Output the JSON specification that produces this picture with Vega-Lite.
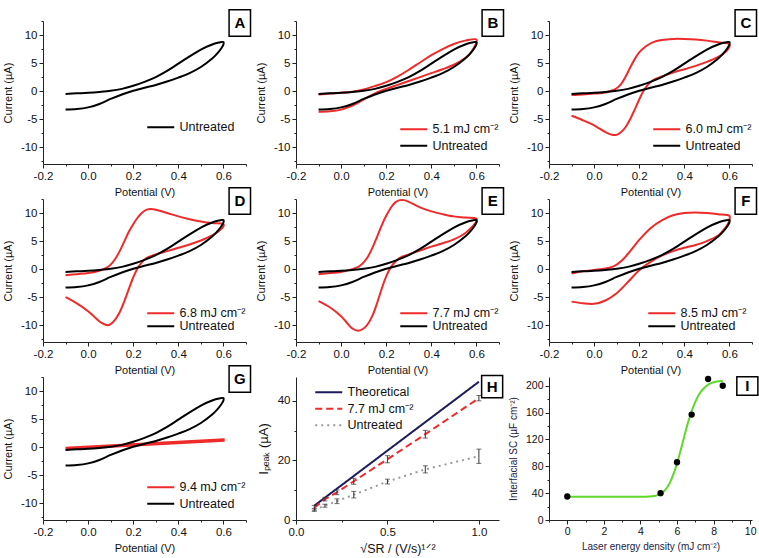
{
"$schema":"https://vega.github.io/schema/vega-lite/v6.json",
"background":"white",
"padding":{"left":2,"top":9,"right":2,"bottom":2},
"datasets":{
"cv":[
{"p":"U","k":1,"V":-0.1,"I":-0.5},{"p":"U","k":2,"V":-0.05,"I":-0.4},{"p":"U","k":3,"V":0,"I":-0.3},{"p":"U","k":4,"V":0.05,"I":-0.15},{"p":"U","k":5,"V":0.1,"I":0.05},{"p":"U","k":6,"V":0.15,"I":0.4},{"p":"U","k":7,"V":0.2,"I":0.95},{"p":"U","k":8,"V":0.25,"I":1.65},{"p":"U","k":9,"V":0.3,"I":2.5},{"p":"U","k":10,"V":0.35,"I":3.6},{"p":"U","k":11,"V":0.4,"I":4.9},{"p":"U","k":12,"V":0.45,"I":6.2},{"p":"U","k":13,"V":0.5,"I":7.4},{"p":"U","k":14,"V":0.55,"I":8.3},{"p":"U","k":15,"V":0.58,"I":8.65},{"p":"U","k":16,"V":0.6,"I":8.75},{"p":"U","k":17,"V":0.6,"I":8.3},{"p":"U","k":18,"V":0.59,"I":7.6},{"p":"U","k":19,"V":0.57,"I":6.6},{"p":"U","k":20,"V":0.55,"I":5.8},{"p":"U","k":21,"V":0.5,"I":4.3},{"p":"U","k":22,"V":0.45,"I":3.2},{"p":"U","k":23,"V":0.4,"I":2.4},{"p":"U","k":24,"V":0.35,"I":1.7},{"p":"U","k":25,"V":0.3,"I":1.1},{"p":"U","k":26,"V":0.25,"I":0.6},{"p":"U","k":27,"V":0.2,"I":0.05},{"p":"U","k":28,"V":0.15,"I":-0.6},{"p":"U","k":29,"V":0.1,"I":-1.4},{"p":"U","k":30,"V":0.05,"I":-2.3},{"p":"U","k":31,"V":0,"I":-2.9},{"p":"U","k":32,"V":-0.05,"I":-3.2},{"p":"U","k":33,"V":-0.1,"I":-3.3},
{"p":"B","k":1,"V":-0.1,"I":-0.6},{"p":"B","k":2,"V":-0.05,"I":-0.45},{"p":"B","k":3,"V":0,"I":-0.3},{"p":"B","k":4,"V":0.05,"I":-0.1},{"p":"B","k":5,"V":0.1,"I":0.3},{"p":"B","k":6,"V":0.15,"I":0.9},{"p":"B","k":7,"V":0.2,"I":1.6},{"p":"B","k":8,"V":0.25,"I":2.6},{"p":"B","k":9,"V":0.3,"I":3.8},{"p":"B","k":10,"V":0.35,"I":5.1},{"p":"B","k":11,"V":0.4,"I":6.4},{"p":"B","k":12,"V":0.45,"I":7.5},{"p":"B","k":13,"V":0.5,"I":8.4},{"p":"B","k":14,"V":0.55,"I":9.0},{"p":"B","k":15,"V":0.6,"I":9.2},{"p":"B","k":16,"V":0.6,"I":8.7},{"p":"B","k":17,"V":0.59,"I":7.8},{"p":"B","k":18,"V":0.57,"I":6.6},{"p":"B","k":19,"V":0.55,"I":5.9},{"p":"B","k":20,"V":0.5,"I":4.7},{"p":"B","k":21,"V":0.45,"I":3.9},{"p":"B","k":22,"V":0.4,"I":3.2},{"p":"B","k":23,"V":0.35,"I":2.5},{"p":"B","k":24,"V":0.3,"I":1.8},{"p":"B","k":25,"V":0.25,"I":1.1},{"p":"B","k":26,"V":0.2,"I":0.4},{"p":"B","k":27,"V":0.15,"I":-0.4},{"p":"B","k":28,"V":0.1,"I":-1.5},{"p":"B","k":29,"V":0.05,"I":-2.6},{"p":"B","k":30,"V":0,"I":-3.3},{"p":"B","k":31,"V":-0.05,"I":-3.6},{"p":"B","k":32,"V":-0.1,"I":-3.7},
{"p":"C","k":1,"V":-0.1,"I":-0.7},{"p":"C","k":2,"V":-0.05,"I":-0.6},{"p":"C","k":3,"V":0,"I":-0.45},{"p":"C","k":4,"V":0.05,"I":-0.25},{"p":"C","k":5,"V":0.08,"I":0.1},{"p":"C","k":6,"V":0.1,"I":0.5},{"p":"C","k":7,"V":0.12,"I":1.3},{"p":"C","k":8,"V":0.14,"I":2.6},{"p":"C","k":9,"V":0.16,"I":4.2},{"p":"C","k":10,"V":0.18,"I":5.7},{"p":"C","k":11,"V":0.2,"I":6.9},{"p":"C","k":12,"V":0.23,"I":8.0},{"p":"C","k":13,"V":0.26,"I":8.7},{"p":"C","k":14,"V":0.3,"I":9.1},{"p":"C","k":15,"V":0.35,"I":9.3},{"p":"C","k":16,"V":0.4,"I":9.3},{"p":"C","k":17,"V":0.45,"I":9.2},{"p":"C","k":18,"V":0.5,"I":9.0},{"p":"C","k":19,"V":0.55,"I":8.7},{"p":"C","k":20,"V":0.6,"I":8.4},{"p":"C","k":21,"V":0.6,"I":7.9},{"p":"C","k":22,"V":0.58,"I":6.9},{"p":"C","k":23,"V":0.55,"I":6.1},{"p":"C","k":24,"V":0.5,"I":5.2},{"p":"C","k":25,"V":0.45,"I":4.5},{"p":"C","k":26,"V":0.4,"I":3.9},{"p":"C","k":27,"V":0.35,"I":3.3},{"p":"C","k":28,"V":0.3,"I":2.6},{"p":"C","k":29,"V":0.26,"I":1.9},{"p":"C","k":30,"V":0.24,"I":1.2},{"p":"C","k":31,"V":0.22,"I":0.1},{"p":"C","k":32,"V":0.2,"I":-1.5},{"p":"C","k":33,"V":0.18,"I":-3.3},{"p":"C","k":34,"V":0.16,"I":-5.0},{"p":"C","k":35,"V":0.14,"I":-6.4},{"p":"C","k":36,"V":0.12,"I":-7.3},{"p":"C","k":37,"V":0.1,"I":-7.8},{"p":"C","k":38,"V":0.08,"I":-7.8},{"p":"C","k":39,"V":0.05,"I":-7.3},{"p":"C","k":40,"V":0.02,"I":-6.6},{"p":"C","k":41,"V":0,"I":-6.1},{"p":"C","k":42,"V":-0.05,"I":-5.2},{"p":"C","k":43,"V":-0.1,"I":-4.4},
{"p":"D","k":1,"V":-0.1,"I":-1.1},{"p":"D","k":2,"V":-0.05,"I":-0.9},{"p":"D","k":3,"V":0,"I":-0.7},{"p":"D","k":4,"V":0.05,"I":-0.3},{"p":"D","k":5,"V":0.08,"I":0.2},{"p":"D","k":6,"V":0.1,"I":0.8},{"p":"D","k":7,"V":0.12,"I":1.8},{"p":"D","k":8,"V":0.14,"I":3.2},{"p":"D","k":9,"V":0.16,"I":4.9},{"p":"D","k":10,"V":0.18,"I":6.6},{"p":"D","k":11,"V":0.2,"I":8.0},{"p":"D","k":12,"V":0.22,"I":9.2},{"p":"D","k":13,"V":0.24,"I":10.1},{"p":"D","k":14,"V":0.26,"I":10.6},{"p":"D","k":15,"V":0.28,"I":10.7},{"p":"D","k":16,"V":0.3,"I":10.6},{"p":"D","k":17,"V":0.35,"I":10.0},{"p":"D","k":18,"V":0.4,"I":9.4},{"p":"D","k":19,"V":0.45,"I":8.9},{"p":"D","k":20,"V":0.5,"I":8.5},{"p":"D","k":21,"V":0.55,"I":8.2},{"p":"D","k":22,"V":0.6,"I":8.0},{"p":"D","k":23,"V":0.6,"I":7.6},{"p":"D","k":24,"V":0.58,"I":6.8},{"p":"D","k":25,"V":0.55,"I":6.0},{"p":"D","k":26,"V":0.5,"I":5.1},{"p":"D","k":27,"V":0.45,"I":4.4},{"p":"D","k":28,"V":0.4,"I":3.8},{"p":"D","k":29,"V":0.35,"I":3.2},{"p":"D","k":30,"V":0.3,"I":2.6},{"p":"D","k":31,"V":0.26,"I":2.0},{"p":"D","k":32,"V":0.24,"I":1.3},{"p":"D","k":33,"V":0.22,"I":0.2},{"p":"D","k":34,"V":0.2,"I":-1.5},{"p":"D","k":35,"V":0.18,"I":-3.6},{"p":"D","k":36,"V":0.16,"I":-5.8},{"p":"D","k":37,"V":0.14,"I":-7.7},{"p":"D","k":38,"V":0.12,"I":-9.0},{"p":"D","k":39,"V":0.1,"I":-9.8},{"p":"D","k":40,"V":0.085,"I":-10.0},{"p":"D","k":41,"V":0.06,"I":-9.6},{"p":"D","k":42,"V":0.03,"I":-8.6},{"p":"D","k":43,"V":0,"I":-7.5},{"p":"D","k":44,"V":-0.05,"I":-6.1},{"p":"D","k":45,"V":-0.1,"I":-5.0},
{"p":"E","k":1,"V":-0.1,"I":-0.9},{"p":"E","k":2,"V":-0.05,"I":-0.7},{"p":"E","k":3,"V":0,"I":-0.5},{"p":"E","k":4,"V":0.05,"I":0},{"p":"E","k":5,"V":0.08,"I":0.5},{"p":"E","k":6,"V":0.1,"I":1.2},{"p":"E","k":7,"V":0.12,"I":2.3},{"p":"E","k":8,"V":0.14,"I":3.9},{"p":"E","k":9,"V":0.16,"I":5.8},{"p":"E","k":10,"V":0.18,"I":7.8},{"p":"E","k":11,"V":0.2,"I":9.5},{"p":"E","k":12,"V":0.22,"I":10.9},{"p":"E","k":13,"V":0.24,"I":11.9},{"p":"E","k":14,"V":0.26,"I":12.3},{"p":"E","k":15,"V":0.28,"I":12.3},{"p":"E","k":16,"V":0.3,"I":12.0},{"p":"E","k":17,"V":0.35,"I":11.0},{"p":"E","k":18,"V":0.4,"I":10.3},{"p":"E","k":19,"V":0.45,"I":9.8},{"p":"E","k":20,"V":0.5,"I":9.4},{"p":"E","k":21,"V":0.55,"I":9.2},{"p":"E","k":22,"V":0.6,"I":9.0},{"p":"E","k":23,"V":0.6,"I":8.5},{"p":"E","k":24,"V":0.58,"I":7.5},{"p":"E","k":25,"V":0.55,"I":6.4},{"p":"E","k":26,"V":0.5,"I":5.3},{"p":"E","k":27,"V":0.45,"I":4.6},{"p":"E","k":28,"V":0.4,"I":4.0},{"p":"E","k":29,"V":0.35,"I":3.3},{"p":"E","k":30,"V":0.3,"I":2.6},{"p":"E","k":31,"V":0.26,"I":2.0},{"p":"E","k":32,"V":0.24,"I":1.3},{"p":"E","k":33,"V":0.22,"I":0.3},{"p":"E","k":34,"V":0.2,"I":-1.3},{"p":"E","k":35,"V":0.18,"I":-3.5},{"p":"E","k":36,"V":0.16,"I":-6.0},{"p":"E","k":37,"V":0.14,"I":-8.2},{"p":"E","k":38,"V":0.12,"I":-9.7},{"p":"E","k":39,"V":0.1,"I":-10.6},{"p":"E","k":40,"V":0.075,"I":-11.0},{"p":"E","k":41,"V":0.05,"I":-10.6},{"p":"E","k":42,"V":0.02,"I":-9.3},{"p":"E","k":43,"V":0,"I":-8.4},{"p":"E","k":44,"V":-0.05,"I":-6.8},{"p":"E","k":45,"V":-0.1,"I":-5.7},
{"p":"F","k":1,"V":-0.1,"I":-0.8},{"p":"F","k":2,"V":-0.05,"I":-0.4},{"p":"F","k":3,"V":0,"I":-0.15},{"p":"F","k":4,"V":0.05,"I":0.1},{"p":"F","k":5,"V":0.08,"I":0.4},{"p":"F","k":6,"V":0.1,"I":0.8},{"p":"F","k":7,"V":0.13,"I":1.8},{"p":"F","k":8,"V":0.16,"I":3.2},{"p":"F","k":9,"V":0.2,"I":5.2},{"p":"F","k":10,"V":0.25,"I":7.3},{"p":"F","k":11,"V":0.3,"I":8.7},{"p":"F","k":12,"V":0.35,"I":9.6},{"p":"F","k":13,"V":0.4,"I":10.0},{"p":"F","k":14,"V":0.45,"I":10.1},{"p":"F","k":15,"V":0.5,"I":10.0},{"p":"F","k":16,"V":0.55,"I":9.8},{"p":"F","k":17,"V":0.6,"I":9.5},{"p":"F","k":18,"V":0.6,"I":8.8},{"p":"F","k":19,"V":0.59,"I":7.8},{"p":"F","k":20,"V":0.57,"I":6.8},{"p":"F","k":21,"V":0.55,"I":6.0},{"p":"F","k":22,"V":0.5,"I":5.0},{"p":"F","k":23,"V":0.45,"I":4.3},{"p":"F","k":24,"V":0.4,"I":3.8},{"p":"F","k":25,"V":0.35,"I":3.2},{"p":"F","k":26,"V":0.3,"I":2.4},{"p":"F","k":27,"V":0.25,"I":1.3},{"p":"F","k":28,"V":0.2,"I":-0.2},{"p":"F","k":29,"V":0.15,"I":-2.3},{"p":"F","k":30,"V":0.1,"I":-4.3},{"p":"F","k":31,"V":0.05,"I":-5.6},{"p":"F","k":32,"V":0,"I":-6.2},{"p":"F","k":33,"V":-0.05,"I":-6.1},{"p":"F","k":34,"V":-0.1,"I":-5.8},
{"p":"G","k":1,"V":-0.1,"I":-0.15},{"p":"G","k":2,"V":0.25,"I":0.6},{"p":"G","k":3,"V":0.6,"I":1.35},{"p":"G","k":4,"V":0.6,"I":1.15},{"p":"G","k":5,"V":0.25,"I":0.4},{"p":"G","k":6,"V":-0.1,"I":-0.35}
],
"h":[
{"s":"Theoretical","x":0.1,"y":4.8},{"s":"Theoretical","x":1.0,"y":46.4},
{"s":"7.7 mJ cm⁻²","x":0.1,"y":4.1,"lo":3.3,"hi":4.9},{"s":"7.7 mJ cm⁻²","x":0.158,"y":7.0,"lo":6.4,"hi":7.6},{"s":"7.7 mJ cm⁻²","x":0.224,"y":9.3,"lo":8.5,"hi":10.1},{"s":"7.7 mJ cm⁻²","x":0.316,"y":13.0,"lo":12.0,"hi":14.0},{"s":"7.7 mJ cm⁻²","x":0.5,"y":20.4,"lo":19.2,"hi":21.6},{"s":"7.7 mJ cm⁻²","x":0.707,"y":28.8,"lo":27.5,"hi":30.1},{"s":"7.7 mJ cm⁻²","x":1.0,"y":40.9,"lo":40.0,"hi":41.8},
{"s":"Untreated","x":0.1,"y":3.4,"lo":2.9,"hi":3.9},{"s":"Untreated","x":0.158,"y":4.8,"lo":4.3,"hi":5.3},{"s":"Untreated","x":0.224,"y":6.3,"lo":5.5,"hi":7.1},{"s":"Untreated","x":0.316,"y":8.5,"lo":7.4,"hi":9.6},{"s":"Untreated","x":0.5,"y":12.9,"lo":12.1,"hi":13.7},{"s":"Untreated","x":0.707,"y":17.0,"lo":15.8,"hi":18.2},{"s":"Untreated","x":1.0,"y":21.4,"lo":19.0,"hi":23.8}
],
"ifit":[
{"x":0,"y":34.5},{"x":1,"y":34.5},{"x":2,"y":34.5},{"x":3,"y":34.5},{"x":4,"y":34.6},{"x":4.5,"y":35},{"x":5,"y":37.5},{"x":5.3,"y":43},{"x":5.6,"y":55},{"x":5.8,"y":68},{"x":6,"y":84},{"x":6.2,"y":104},{"x":6.4,"y":125},{"x":6.6,"y":145},{"x":6.8,"y":162},{"x":7,"y":176},{"x":7.2,"y":187},{"x":7.5,"y":197},{"x":7.8,"y":203},{"x":8.1,"y":206},{"x":8.5,"y":207}
],
"ipts":[
{"x":0,"y":35},{"x":5.1,"y":40},{"x":6.0,"y":86},{"x":6.8,"y":157},{"x":7.7,"y":210},{"x":8.5,"y":200}
]
},
"columns":3,
"spacing":{"row":35,"column":50},
"bounds":"flush",
"resolve":{"scale":{"x":"independent","y":"independent","color":"independent","strokeDash":"independent"},"axis":{"x":"independent","y":"independent"},"legend":{"color":"independent","strokeDash":"independent"}},
"concat":[
{"width":203,"height":143,"layer":[
{"data":{"name":"cv"},"transform":[{"filter":"datum.p=='U'"}],"mark":{"type":"line","strokeWidth":2,"interpolate":"catmull-rom"},
"encoding":{"x":{"field":"V","type":"quantitative","scale":{"domain":[-0.2,0.7],"nice":false,"zero":false},"axis":{"title":"Potential (V)","tickCount":50,"values":[-0.2,-0.1,0,0.1,0.2,0.3,0.4,0.5,0.6,0.7],"labelExpr":"abs(round(datum.value*10))%2==0 ? replace(format(datum.value,'.1f'),'\u2212','-') : ''","tickSize":{"condition":{"test":"abs(round(datum.value*10))%2==0","value":4},"value":2}}},
"y":{"field":"I","type":"quantitative","scale":{"domain":[-13,12.5],"nice":false,"zero":false},"axis":{"title":"Current (µA)","tickCount":50,"values":[-12.5,-10,-7.5,-5,-2.5,0,2.5,5,7.5,10,12.5],"labelExpr":"datum.value%5==0 ? replace(format(datum.value,'d'),'\u2212','-') : ''","tickSize":{"condition":{"test":"datum.value%5==0","value":4},"value":2}}},
"order":{"field":"k"},
"color":{"datum":"Untreated","scale":{"domain":["Untreated"],"range":["#000000"]},"legend":{"title":null,"orient":"none","legendX":120,"legendY":100}}}},
{"data":{"values":[{}]},"mark":{"type":"rect","fill":"white","stroke":"black","strokeWidth":1.5},"encoding":{"x":{"datum":0.625,"scale":{"domain":[-0.2,0.7],"nice":false,"zero":false}},"x2":{"datum":0.72},"y":{"datum":14.5,"scale":{"domain":[-13,12.5],"nice":false,"zero":false}},"y2":{"datum":9.8}}},
{"data":{"values":[{}]},"mark":{"type":"text","font":"Liberation Sans","fontWeight":"bold","fontSize":15},"encoding":{"x":{"datum":0.6725,"scale":{"domain":[-0.2,0.7],"nice":false,"zero":false}},"y":{"datum":12.15,"scale":{"domain":[-13,12.5],"nice":false,"zero":false}},"text":{"value":"A"}}}
]},
{"width":203,"height":143,"layer":[
{"data":{"name":"cv"},"transform":[{"filter":"datum.p=='B'"}],"mark":{"type":"line","strokeWidth":2,"interpolate":"catmull-rom"},
"encoding":{"x":{"field":"V","type":"quantitative","scale":{"domain":[-0.2,0.7],"nice":false,"zero":false},"axis":{"title":"Potential (V)","tickCount":50,"values":[-0.2,-0.1,0,0.1,0.2,0.3,0.4,0.5,0.6,0.7],"labelExpr":"abs(round(datum.value*10))%2==0 ? replace(format(datum.value,'.1f'),'\u2212','-') : ''","tickSize":{"condition":{"test":"abs(round(datum.value*10))%2==0","value":4},"value":2}}},
"y":{"field":"I","type":"quantitative","scale":{"domain":[-13,12.5],"nice":false,"zero":false},"axis":{"title":"Current (µA)","tickCount":50,"values":[-12.5,-10,-7.5,-5,-2.5,0,2.5,5,7.5,10,12.5],"labelExpr":"datum.value%5==0 ? replace(format(datum.value,'d'),'\u2212','-') : ''","tickSize":{"condition":{"test":"datum.value%5==0","value":4},"value":2}}},
"order":{"field":"k"},
"color":{"datum":"5.1 mJ cm⁻²","scale":{"domain":["5.1 mJ cm⁻²","Untreated"],"range":["#ee2a2a","#000000"]},"legend":{"title":null,"orient":"none","legendX":120,"legendY":102,"rowPadding":3.5}}}},
{"data":{"name":"cv"},"transform":[{"filter":"datum.p=='U'"}],"mark":{"type":"line","strokeWidth":2,"interpolate":"catmull-rom"},"encoding":{"x":{"field":"V","type":"quantitative","scale":{"domain":[-0.2,0.7],"nice":false,"zero":false}},"y":{"field":"I","type":"quantitative","scale":{"domain":[-13,12.5],"nice":false,"zero":false}},"order":{"field":"k"},"color":{"datum":"Untreated"}}},
{"data":{"values":[{}]},"mark":{"type":"rect","fill":"white","stroke":"black","strokeWidth":1.5},"encoding":{"x":{"datum":0.625,"scale":{"domain":[-0.2,0.7],"nice":false,"zero":false}},"x2":{"datum":0.72},"y":{"datum":14.5,"scale":{"domain":[-13,12.5],"nice":false,"zero":false}},"y2":{"datum":9.8}}},
{"data":{"values":[{}]},"mark":{"type":"text","font":"Liberation Sans","fontWeight":"bold","fontSize":15},"encoding":{"x":{"datum":0.6725,"scale":{"domain":[-0.2,0.7],"nice":false,"zero":false}},"y":{"datum":12.15,"scale":{"domain":[-13,12.5],"nice":false,"zero":false}},"text":{"value":"B"}}}
]},
{"width":203,"height":143,"layer":[
{"data":{"name":"cv"},"transform":[{"filter":"datum.p=='C'"}],"mark":{"type":"line","strokeWidth":2,"interpolate":"catmull-rom"},
"encoding":{"x":{"field":"V","type":"quantitative","scale":{"domain":[-0.2,0.7],"nice":false,"zero":false},"axis":{"title":"Potential (V)","tickCount":50,"values":[-0.2,-0.1,0,0.1,0.2,0.3,0.4,0.5,0.6,0.7],"labelExpr":"abs(round(datum.value*10))%2==0 ? replace(format(datum.value,'.1f'),'\u2212','-') : ''","tickSize":{"condition":{"test":"abs(round(datum.value*10))%2==0","value":4},"value":2}}},
"y":{"field":"I","type":"quantitative","scale":{"domain":[-13,12.5],"nice":false,"zero":false},"axis":{"title":"Current (µA)","tickCount":50,"values":[-12.5,-10,-7.5,-5,-2.5,0,2.5,5,7.5,10,12.5],"labelExpr":"datum.value%5==0 ? replace(format(datum.value,'d'),'\u2212','-') : ''","tickSize":{"condition":{"test":"datum.value%5==0","value":4},"value":2}}},
"order":{"field":"k"},
"color":{"datum":"6.0 mJ cm⁻²","scale":{"domain":["6.0 mJ cm⁻²","Untreated"],"range":["#ee2a2a","#000000"]},"legend":{"title":null,"orient":"none","legendX":120,"legendY":102,"rowPadding":3.5}}}},
{"data":{"name":"cv"},"transform":[{"filter":"datum.p=='U'"}],"mark":{"type":"line","strokeWidth":2,"interpolate":"catmull-rom"},"encoding":{"x":{"field":"V","type":"quantitative","scale":{"domain":[-0.2,0.7],"nice":false,"zero":false}},"y":{"field":"I","type":"quantitative","scale":{"domain":[-13,12.5],"nice":false,"zero":false}},"order":{"field":"k"},"color":{"datum":"Untreated"}}},
{"data":{"values":[{}]},"mark":{"type":"rect","fill":"white","stroke":"black","strokeWidth":1.5},"encoding":{"x":{"datum":0.625,"scale":{"domain":[-0.2,0.7],"nice":false,"zero":false}},"x2":{"datum":0.72},"y":{"datum":14.5,"scale":{"domain":[-13,12.5],"nice":false,"zero":false}},"y2":{"datum":9.8}}},
{"data":{"values":[{}]},"mark":{"type":"text","font":"Liberation Sans","fontWeight":"bold","fontSize":15},"encoding":{"x":{"datum":0.6725,"scale":{"domain":[-0.2,0.7],"nice":false,"zero":false}},"y":{"datum":12.15,"scale":{"domain":[-13,12.5],"nice":false,"zero":false}},"text":{"value":"C"}}}
]},
{"width":203,"height":143,"layer":[
{"data":{"name":"cv"},"transform":[{"filter":"datum.p=='D'"}],"mark":{"type":"line","strokeWidth":2,"interpolate":"catmull-rom"},
"encoding":{"x":{"field":"V","type":"quantitative","scale":{"domain":[-0.2,0.7],"nice":false,"zero":false},"axis":{"title":"Potential (V)","tickCount":50,"values":[-0.2,-0.1,0,0.1,0.2,0.3,0.4,0.5,0.6,0.7],"labelExpr":"abs(round(datum.value*10))%2==0 ? replace(format(datum.value,'.1f'),'\u2212','-') : ''","tickSize":{"condition":{"test":"abs(round(datum.value*10))%2==0","value":4},"value":2}}},
"y":{"field":"I","type":"quantitative","scale":{"domain":[-13,12.5],"nice":false,"zero":false},"axis":{"title":"Current (µA)","tickCount":50,"values":[-12.5,-10,-7.5,-5,-2.5,0,2.5,5,7.5,10,12.5],"labelExpr":"datum.value%5==0 ? replace(format(datum.value,'d'),'\u2212','-') : ''","tickSize":{"condition":{"test":"datum.value%5==0","value":4},"value":2}}},
"order":{"field":"k"},
"color":{"datum":"6.8 mJ cm⁻²","scale":{"domain":["6.8 mJ cm⁻²","Untreated"],"range":["#ee2a2a","#000000"]},"legend":{"title":null,"orient":"none","legendX":120,"legendY":108,"rowPadding":-1.5}}}},
{"data":{"name":"cv"},"transform":[{"filter":"datum.p=='U'"}],"mark":{"type":"line","strokeWidth":2,"interpolate":"catmull-rom"},"encoding":{"x":{"field":"V","type":"quantitative","scale":{"domain":[-0.2,0.7],"nice":false,"zero":false}},"y":{"field":"I","type":"quantitative","scale":{"domain":[-13,12.5],"nice":false,"zero":false}},"order":{"field":"k"},"color":{"datum":"Untreated"}}},
{"data":{"values":[{}]},"mark":{"type":"rect","fill":"white","stroke":"black","strokeWidth":1.5},"encoding":{"x":{"datum":0.625,"scale":{"domain":[-0.2,0.7],"nice":false,"zero":false}},"x2":{"datum":0.72},"y":{"datum":14.5,"scale":{"domain":[-13,12.5],"nice":false,"zero":false}},"y2":{"datum":9.8}}},
{"data":{"values":[{}]},"mark":{"type":"text","font":"Liberation Sans","fontWeight":"bold","fontSize":15},"encoding":{"x":{"datum":0.6725,"scale":{"domain":[-0.2,0.7],"nice":false,"zero":false}},"y":{"datum":12.15,"scale":{"domain":[-13,12.5],"nice":false,"zero":false}},"text":{"value":"D"}}}
]},
{"width":203,"height":143,"layer":[
{"data":{"name":"cv"},"transform":[{"filter":"datum.p=='E'"}],"mark":{"type":"line","strokeWidth":2,"interpolate":"catmull-rom"},
"encoding":{"x":{"field":"V","type":"quantitative","scale":{"domain":[-0.2,0.7],"nice":false,"zero":false},"axis":{"title":"Potential (V)","tickCount":50,"values":[-0.2,-0.1,0,0.1,0.2,0.3,0.4,0.5,0.6,0.7],"labelExpr":"abs(round(datum.value*10))%2==0 ? replace(format(datum.value,'.1f'),'\u2212','-') : ''","tickSize":{"condition":{"test":"abs(round(datum.value*10))%2==0","value":4},"value":2}}},
"y":{"field":"I","type":"quantitative","scale":{"domain":[-13,12.5],"nice":false,"zero":false},"axis":{"title":"Current (µA)","tickCount":50,"values":[-12.5,-10,-7.5,-5,-2.5,0,2.5,5,7.5,10,12.5],"labelExpr":"datum.value%5==0 ? replace(format(datum.value,'d'),'\u2212','-') : ''","tickSize":{"condition":{"test":"datum.value%5==0","value":4},"value":2}}},
"order":{"field":"k"},
"color":{"datum":"7.7 mJ cm⁻²","scale":{"domain":["7.7 mJ cm⁻²","Untreated"],"range":["#ee2a2a","#000000"]},"legend":{"title":null,"orient":"none","legendX":120,"legendY":108,"rowPadding":-1.5}}}},
{"data":{"name":"cv"},"transform":[{"filter":"datum.p=='U'"}],"mark":{"type":"line","strokeWidth":2,"interpolate":"catmull-rom"},"encoding":{"x":{"field":"V","type":"quantitative","scale":{"domain":[-0.2,0.7],"nice":false,"zero":false}},"y":{"field":"I","type":"quantitative","scale":{"domain":[-13,12.5],"nice":false,"zero":false}},"order":{"field":"k"},"color":{"datum":"Untreated"}}},
{"data":{"values":[{}]},"mark":{"type":"rect","fill":"white","stroke":"black","strokeWidth":1.5},"encoding":{"x":{"datum":0.625,"scale":{"domain":[-0.2,0.7],"nice":false,"zero":false}},"x2":{"datum":0.72},"y":{"datum":14.5,"scale":{"domain":[-13,12.5],"nice":false,"zero":false}},"y2":{"datum":9.8}}},
{"data":{"values":[{}]},"mark":{"type":"text","font":"Liberation Sans","fontWeight":"bold","fontSize":15},"encoding":{"x":{"datum":0.6725,"scale":{"domain":[-0.2,0.7],"nice":false,"zero":false}},"y":{"datum":12.15,"scale":{"domain":[-13,12.5],"nice":false,"zero":false}},"text":{"value":"E"}}}
]},
{"width":203,"height":143,"layer":[
{"data":{"name":"cv"},"transform":[{"filter":"datum.p=='F'"}],"mark":{"type":"line","strokeWidth":2,"interpolate":"catmull-rom"},
"encoding":{"x":{"field":"V","type":"quantitative","scale":{"domain":[-0.2,0.7],"nice":false,"zero":false},"axis":{"title":"Potential (V)","tickCount":50,"values":[-0.2,-0.1,0,0.1,0.2,0.3,0.4,0.5,0.6,0.7],"labelExpr":"abs(round(datum.value*10))%2==0 ? replace(format(datum.value,'.1f'),'\u2212','-') : ''","tickSize":{"condition":{"test":"abs(round(datum.value*10))%2==0","value":4},"value":2}}},
"y":{"field":"I","type":"quantitative","scale":{"domain":[-13,12.5],"nice":false,"zero":false},"axis":{"title":"Current (µA)","tickCount":50,"values":[-12.5,-10,-7.5,-5,-2.5,0,2.5,5,7.5,10,12.5],"labelExpr":"datum.value%5==0 ? replace(format(datum.value,'d'),'\u2212','-') : ''","tickSize":{"condition":{"test":"datum.value%5==0","value":4},"value":2}}},
"order":{"field":"k"},
"color":{"datum":"8.5 mJ cm⁻²","scale":{"domain":["8.5 mJ cm⁻²","Untreated"],"range":["#ee2a2a","#000000"]},"legend":{"title":null,"orient":"none","legendX":115,"legendY":108,"rowPadding":-1.5}}}},
{"data":{"name":"cv"},"transform":[{"filter":"datum.p=='U'"}],"mark":{"type":"line","strokeWidth":2,"interpolate":"catmull-rom"},"encoding":{"x":{"field":"V","type":"quantitative","scale":{"domain":[-0.2,0.7],"nice":false,"zero":false}},"y":{"field":"I","type":"quantitative","scale":{"domain":[-13,12.5],"nice":false,"zero":false}},"order":{"field":"k"},"color":{"datum":"Untreated"}}},
{"data":{"values":[{}]},"mark":{"type":"rect","fill":"white","stroke":"black","strokeWidth":1.5},"encoding":{"x":{"datum":0.625,"scale":{"domain":[-0.2,0.7],"nice":false,"zero":false}},"x2":{"datum":0.72},"y":{"datum":14.5,"scale":{"domain":[-13,12.5],"nice":false,"zero":false}},"y2":{"datum":9.8}}},
{"data":{"values":[{}]},"mark":{"type":"text","font":"Liberation Sans","fontWeight":"bold","fontSize":15},"encoding":{"x":{"datum":0.6725,"scale":{"domain":[-0.2,0.7],"nice":false,"zero":false}},"y":{"datum":12.15,"scale":{"domain":[-13,12.5],"nice":false,"zero":false}},"text":{"value":"F"}}}
]},
{"width":203,"height":143,"layer":[
{"data":{"name":"cv"},"transform":[{"filter":"datum.p=='G'"}],"mark":{"type":"line","strokeWidth":2.5,"interpolate":"linear"},
"encoding":{"x":{"field":"V","type":"quantitative","scale":{"domain":[-0.2,0.7],"nice":false,"zero":false},"axis":{"title":"Potential (V)","tickCount":50,"values":[-0.2,-0.1,0,0.1,0.2,0.3,0.4,0.5,0.6,0.7],"labelExpr":"abs(round(datum.value*10))%2==0 ? replace(format(datum.value,'.1f'),'\u2212','-') : ''","tickSize":{"condition":{"test":"abs(round(datum.value*10))%2==0","value":4},"value":2}}},
"y":{"field":"I","type":"quantitative","scale":{"domain":[-13,12.5],"nice":false,"zero":false},"axis":{"title":"Current (µA)","tickCount":50,"values":[-12.5,-10,-7.5,-5,-2.5,0,2.5,5,7.5,10,12.5],"labelExpr":"datum.value%5==0 ? replace(format(datum.value,'d'),'\u2212','-') : ''","tickSize":{"condition":{"test":"datum.value%5==0","value":4},"value":2}}},
"order":{"field":"k"},
"color":{"datum":"9.4 mJ cm⁻²","scale":{"domain":["9.4 mJ cm⁻²","Untreated"],"range":["#ee2a2a","#000000"]},"legend":{"title":null,"orient":"none","legendX":120,"legendY":104,"rowPadding":3.5}}}},
{"data":{"name":"cv"},"transform":[{"filter":"datum.p=='U'"}],"mark":{"type":"line","strokeWidth":2,"interpolate":"catmull-rom"},"encoding":{"x":{"field":"V","type":"quantitative","scale":{"domain":[-0.2,0.7],"nice":false,"zero":false}},"y":{"field":"I","type":"quantitative","scale":{"domain":[-13,12.5],"nice":false,"zero":false}},"order":{"field":"k"},"color":{"datum":"Untreated"}}},
{"data":{"values":[{}]},"mark":{"type":"rect","fill":"white","stroke":"black","strokeWidth":1.5},"encoding":{"x":{"datum":0.625,"scale":{"domain":[-0.2,0.7],"nice":false,"zero":false}},"x2":{"datum":0.72},"y":{"datum":14.5,"scale":{"domain":[-13,12.5],"nice":false,"zero":false}},"y2":{"datum":9.8}}},
{"data":{"values":[{}]},"mark":{"type":"text","font":"Liberation Sans","fontWeight":"bold","fontSize":15},"encoding":{"x":{"datum":0.6725,"scale":{"domain":[-0.2,0.7],"nice":false,"zero":false}},"y":{"datum":12.15,"scale":{"domain":[-13,12.5],"nice":false,"zero":false}},"text":{"value":"G"}}}
]},
{"width":203,"height":143,"layer":[
{"data":{"name":"h"},"mark":{"type":"line","strokeWidth":2},
"encoding":{"x":{"field":"x","type":"quantitative","scale":{"domain":[0,1.11],"nice":false,"zero":false},"axis":{"title":"√SR / (V/s)¹ᐟ²","titleFontSize":12.5,"tickCount":50,"values":[0,0.25,0.5,0.75,1],"labelExpr":"(datum.value*2)%1==0 ? format(datum.value,'.1f') : ''","tickSize":{"condition":{"test":"(datum.value*2)%1==0","value":4},"value":2}}},
"y":{"field":"y","type":"quantitative","scale":{"domain":[0,48],"nice":false,"zero":false},"axis":{"title":"Iₚₑₐₖ (µA)","titleFontSize":13,"tickCount":50,"values":[0,10,20,30,40],"labelExpr":"datum.value%20==0 ? format(datum.value,'d') : ''","tickSize":{"condition":{"test":"datum.value%20==0","value":4},"value":2}}},
"color":{"field":"s","type":"nominal","scale":{"domain":["Theoretical","7.7 mJ cm⁻²","Untreated"],"range":["#1c1c5c","#ee2a2a","#9a9a9a"]},"legend":{"title":null,"orient":"none","legendX":35,"legendY":9,"rowPadding":3.5}},
"strokeDash":{"field":"s","type":"nominal","scale":{"domain":["Theoretical","7.7 mJ cm⁻²","Untreated"],"range":[[1,0],[7,4],[2,4]]},"legend":{"title":null,"orient":"none","legendX":35,"legendY":9,"rowPadding":3.5}}}},
{"data":{"name":"h"},"transform":[{"filter":"isValid(datum.lo)"}],"mark":{"type":"errorbar","ticks":true,"color":"#333333"},"encoding":{"x":{"field":"x","type":"quantitative","scale":{"domain":[0,1.11],"nice":false,"zero":false}},"y":{"field":"lo","type":"quantitative","scale":{"domain":[0,48],"nice":false,"zero":false},"title":"Iₚₑₐₖ (µA)"},"y2":{"field":"hi"}}},
{"data":{"values":[{}]},"mark":{"type":"rect","fill":"white","stroke":"black","strokeWidth":1.5},"encoding":{"x":{"datum":1.015,"scale":{"domain":[0,1.11],"nice":false,"zero":false}},"x2":{"datum":1.13},"y":{"datum":48.5,"scale":{"domain":[0,48],"nice":false,"zero":false}},"y2":{"datum":41}}},
{"data":{"values":[{}]},"mark":{"type":"text","font":"Liberation Sans","fontWeight":"bold","fontSize":15},"encoding":{"x":{"datum":1.0725,"scale":{"domain":[0,1.11],"nice":false,"zero":false}},"y":{"datum":44.75,"scale":{"domain":[0,48],"nice":false,"zero":false}},"text":{"value":"H"}}}
]},
{"width":203,"height":143,"layer":[
{"data":{"name":"ifit"},"mark":{"type":"line","strokeWidth":2,"color":"#5ed82a","interpolate":"monotone"},
"encoding":{"x":{"field":"x","type":"quantitative","scale":{"domain":[-1,10.1],"nice":false,"zero":false},"axis":{"title":"Laser energy density (mJ cm⁻²)","titleFontSize":10,"titleColor":"#222244","labelFontSize":10.5,"tickCount":50,"values":[-1,0,1,2,3,4,5,6,7,8,9,10],"labelExpr":"datum.value>=0 && datum.value%2==0 ? format(datum.value,'d') : ''","tickSize":{"condition":{"test":"datum.value>=0 && datum.value%2==0","value":4},"value":2}}},
"y":{"field":"y","type":"quantitative","scale":{"domain":[0,213],"nice":false,"zero":false},"axis":{"title":"Interfacial SC (µF cm⁻²)","titleFontSize":10,"titleColor":"#222244","labelFontSize":10.5,"tickCount":50,"values":[0,20,40,60,80,100,120,140,160,180,200],"labelExpr":"datum.value%40==0 ? format(datum.value,'d') : ''","tickSize":{"condition":{"test":"datum.value%40==0","value":4},"value":2}}}}},
{"data":{"name":"ipts"},"mark":{"type":"circle","color":"#000000","size":40,"opacity":1},"encoding":{"x":{"field":"x","type":"quantitative","scale":{"domain":[-1,10.1],"nice":false,"zero":false}},"y":{"field":"y","type":"quantitative","scale":{"domain":[0,213],"nice":false,"zero":false}}}},
{"data":{"values":[{}]},"mark":{"type":"rect","fill":"white","stroke":"black","strokeWidth":1.5},"encoding":{"x":{"datum":9.27,"scale":{"domain":[-1,10.1],"nice":false,"zero":false}},"x2":{"datum":10.42},"y":{"datum":213.5,"scale":{"domain":[0,213],"nice":false,"zero":false}},"y2":{"datum":186}}},
{"data":{"values":[{}]},"mark":{"type":"text","font":"Liberation Sans","fontWeight":"bold","fontSize":15},"encoding":{"x":{"datum":9.845,"scale":{"domain":[-1,10.1],"nice":false,"zero":false}},"y":{"datum":199.75,"scale":{"domain":[0,213],"nice":false,"zero":false}},"text":{"value":"I"}}}
]}
],
"config":{
"font":"Liberation Sans",
"view":{"stroke":null},
"axis":{"grid":false,"domain":true,"domainColor":"#222222","tickColor":"#222222","labelColor":"#111111","titleColor":"#111111","labelFont":"Liberation Sans","titleFont":"Liberation Sans","labelFontSize":11.5,"titleFontSize":11,"titleFontWeight":"normal","labelPadding":2,"labelOverlap":false,"labelFlush":false,"domainWidth":1,"tickWidth":1},
"axisX":{"titlePadding":5},
"axisY":{"titlePadding":7},
"legend":{"padding":0,"labelFont":"Liberation Sans","labelFontSize":12.5,"labelColor":"#111111","labelOffset":4,"symbolType":"M-4.4,0H1","symbolSize":100,"symbolStrokeWidth":2}
}
}
